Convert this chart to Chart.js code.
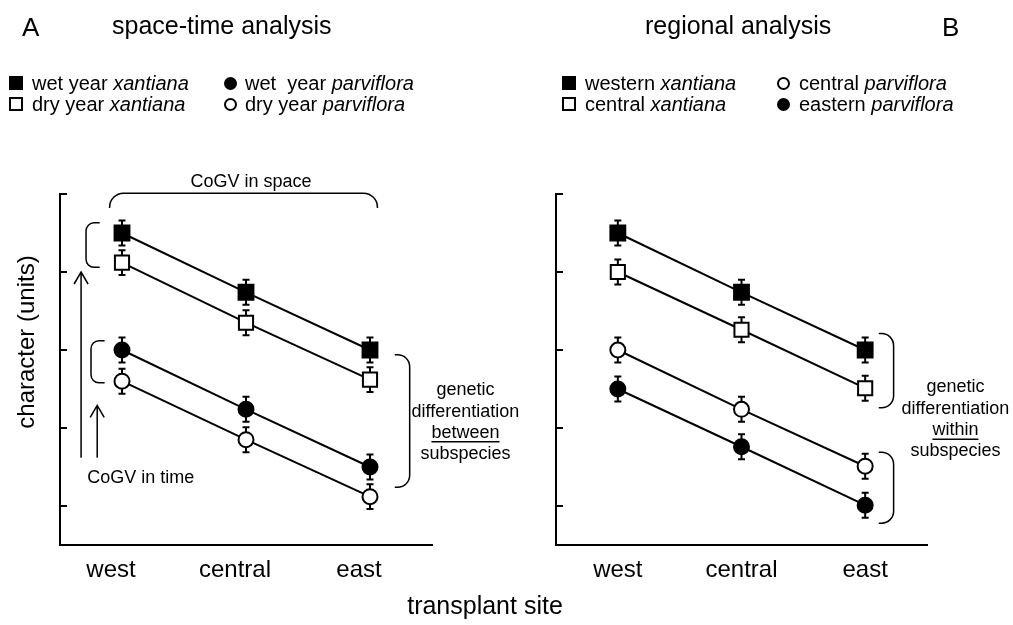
<!DOCTYPE html>
<html>
<head>
<meta charset="utf-8">
<script src="https://cdn.jsdelivr.net/npm/chart.js@4.4.1/dist/chart.umd.min.js"></script>
<style>
  body { margin: 0; background: #fff; }
  #fig { position: relative; width: 1013px; height: 625px; overflow: hidden;
         font-family: "Liberation Sans", Arial, sans-serif; color: #000; }
  #fig canvas { position: absolute; top: 0; }
  .txt { position: absolute; white-space: pre; }
  .mk { position: absolute; box-sizing: border-box; border: 2px solid #000; }
</style>
</head>
<body>
<div id="fig">
  <canvas id="chartA" width="540" height="625" style="left:0"></canvas>
  <canvas id="chartB" width="507" height="625" style="left:506px"></canvas>
  <div class="txt" style="left:22px;top:12px;font-size:26px;line-height:30px">A</div>
  <div class="txt" style="left:112px;top:11px;font-size:25px;line-height:28px">space-time analysis</div>
  <div class="txt" style="left:645px;top:11px;font-size:25px;line-height:28px">regional analysis</div>
  <div class="txt" style="left:942px;top:12px;font-size:26px;line-height:30px">B</div>
  <div class="txt" style="left:26px;top:342px;font-size:24px;line-height:28px;transform:translate(-50%,-50%) rotate(-90deg)">character (units)</div>
  <div class="txt" style="left:485px;top:591px;font-size:25px;line-height:28px;transform:translateX(-50%)">transplant site</div>
</div>
<script>
const sites = ['west', 'central', 'east'];
const yTicks = [0, 1, 2, 3, 4];
const errBar = [0.16, 0.16, 0.16];

// A: space-time analysis
const wetXantiana = [3.5, 2.74, 2.0];
const dryXantiana = [3.12, 2.35, 1.62];
const wetParviflora = [2.0, 1.24, 0.5];
const dryParviflora = [1.6, 0.85, 0.12];

// B: regional analysis
const westernXantiana = [3.5, 2.74, 2.0];
const centralXantiana = [3.0, 2.26, 1.51];
const centralParviflora = [2.0, 1.24, 0.51];
const easternParviflora = [1.5, 0.76, 0.01];

const FONT = '"Liberation Sans", Arial, sans-serif';

function series(name, italic, data, shape, filled) {
  const r = shape === 'rect' ? (filled ? 10.5 : 10) : 7.5;
  return {
    label: name + italic,
    name, italic, shape, filled,
    data,
    borderColor: '#000',
    borderWidth: 2,
    pointStyle: shape,
    pointRadius: r,
    pointHoverRadius: r,
    pointBackgroundColor: filled ? '#000' : '#fff',
    pointBorderColor: '#000',
    pointBorderWidth: 2,
    tension: 0,
    fill: false
  };
}

const dataA = [
  series('wet year ', 'xantiana', wetXantiana, 'rect', true),
  series('dry year ', 'xantiana', dryXantiana, 'rect', false),
  series('wet  year ', 'parviflora', wetParviflora, 'circle', true),
  series('dry year ', 'parviflora', dryParviflora, 'circle', false)
];
const dataB = [
  series('western ', 'xantiana', westernXantiana, 'rect', true),
  series('central ', 'xantiana', centralXantiana, 'rect', false),
  series('central ', 'parviflora', centralParviflora, 'circle', false),
  series('eastern ', 'parviflora', easternParviflora, 'circle', true)
];

// html legend, two columns of two rows
function legend(sets, cols) {
  const fig = document.getElementById('fig');
  const rows = [83, 104];
  sets.forEach((ds, k) => {
    const col = cols[Math.floor(k / 2)];
    const cy = rows[k % 2];
    const mk = document.createElement('div');
    mk.className = 'mk';
    const sz = ds.shape === 'rect' ? 14 : 13;
    mk.style.cssText = `left:${col[0]}px;top:${cy - sz / 2}px;width:${sz}px;height:${sz}px;` +
      `background:${ds.filled ? '#000' : '#fff'};border-radius:${ds.shape === 'rect' ? 0 : '50%'}`;
    fig.appendChild(mk);
    const t = document.createElement('div');
    t.className = 'txt';
    t.style.cssText = `left:${col[1]}px;top:${cy - 11}px;font-size:20px;line-height:22px`;
    t.innerHTML = ds.name + '<i>' + ds.italic + '</i>';
    fig.appendChild(t);
  });
}
legend(dataA, [[9, 32], [224, 245]]);
legend(dataB, [[562, 585], [777, 799]]);

const errorBars = {
  id: 'errorBars',
  beforeDatasetsDraw(chart) {
    const { ctx, scales: { y } } = chart;
    ctx.save();
    ctx.strokeStyle = '#000';
    ctx.lineWidth = 2;
    chart.data.datasets.forEach((ds, di) => {
      chart.getDatasetMeta(di).data.forEach((pt, i) => {
        const top = y.getPixelForValue(ds.data[i] + errBar[i]);
        const bot = y.getPixelForValue(ds.data[i] - errBar[i]);
        ctx.beginPath();
        ctx.moveTo(pt.x, top); ctx.lineTo(pt.x, bot);
        ctx.moveTo(pt.x - 3.5, top); ctx.lineTo(pt.x + 3.5, top);
        ctx.moveTo(pt.x - 3.5, bot); ctx.lineTo(pt.x + 3.5, bot);
        ctx.stroke();
      });
    });
    ctx.restore();
  }
};

// tick marks point into the plot
const innerTicks = {
  id: 'innerTicks',
  afterDraw(chart) {
    const { ctx, chartArea, scales: { y } } = chart;
    ctx.save();
    ctx.strokeStyle = '#000';
    ctx.lineWidth = 2;
    yTicks.forEach(v => {
      const py = Math.round(y.getPixelForValue(v));
      ctx.beginPath();
      ctx.moveTo(chartArea.left, py);
      ctx.lineTo(chartArea.left + 7, py);
      ctx.stroke();
    });
    ctx.restore();
  }
};

function bracket(ctx, x1, y1, x2, y2, side, r) {
  ctx.beginPath();
  if (side === 'left') {
    ctx.moveTo(x2, y1); ctx.arcTo(x1, y1, x1, y2, r); ctx.arcTo(x1, y2, x2, y2, r); ctx.lineTo(x2, y2);
  } else if (side === 'right') {
    ctx.moveTo(x1, y1); ctx.arcTo(x2, y1, x2, y2, r); ctx.arcTo(x2, y2, x1, y2, r); ctx.lineTo(x1, y2);
  } else {
    ctx.moveTo(x1, y2); ctx.arcTo(x1, y1, x2, y1, r); ctx.arcTo(x2, y1, x2, y2, r); ctx.lineTo(x2, y2);
  }
  ctx.stroke();
}

function arrow(ctx, x, yb, yt) {
  ctx.beginPath();
  ctx.moveTo(x, yb); ctx.lineTo(x, yt);
  ctx.moveTo(x - 7, yt + 12); ctx.lineTo(x, yt); ctx.lineTo(x + 7, yt + 12);
  ctx.stroke();
}

function textLines(ctx, cx, lines, ys, underline) {
  ctx.font = '18px ' + FONT;
  ctx.textAlign = 'center';
  ctx.textBaseline = 'middle';
  lines.forEach((s, k) => {
    ctx.fillText(s, cx, ys[k]);
    if (k === underline) {
      const w = ctx.measureText(s).width;
      ctx.beginPath();
      ctx.moveTo(cx - w / 2, ys[k] + 9); ctx.lineTo(cx + w / 2, ys[k] + 9);
      ctx.stroke();
    }
  });
}

const notesA = {
  id: 'notesA',
  afterDraw(chart) {
    const { ctx, scales: { x, y } } = chart;
    const px = i => x.getPixelForValue(i);
    const py = v => y.getPixelForValue(v);
    ctx.save();
    ctx.strokeStyle = '#000';
    ctx.fillStyle = '#000';
    ctx.lineWidth = 1.5;
    // CoGV in space
    bracket(ctx, px(-0.1), py(4.01), px(2.06), py(3.82), 'top', 14);
    ctx.font = '18px ' + FONT;
    ctx.textAlign = 'center';
    ctx.textBaseline = 'middle';
    ctx.fillText('CoGV in space', px(1.04), py(4.15));
    // CoGV in time
    bracket(ctx, px(-0.29), py(3.63), px(-0.18), py(3.06), 'left', 8);
    bracket(ctx, px(-0.25), py(2.12), px(-0.14), py(1.58), 'left', 8);
    arrow(ctx, px(-0.33), py(0.62), py(3.0));
    arrow(ctx, px(-0.2), py(0.62), py(1.29));
    ctx.textAlign = 'left';
    ctx.fillText('CoGV in time', px(-0.28), py(0.36));
    // between subspecies
    bracket(ctx, px(2.2), py(1.94), px(2.32), py(0.24), 'right', 12);
    textLines(ctx, px(2.77), ['genetic', 'differentiation', 'between', 'subspecies'],
      [py(1.49), py(1.2), py(0.94), py(0.66)], 2);
    ctx.restore();
  }
};

const notesB = {
  id: 'notesB',
  afterDraw(chart) {
    const { ctx, scales: { x, y } } = chart;
    const px = i => x.getPixelForValue(i);
    const py = v => y.getPixelForValue(v);
    ctx.save();
    ctx.strokeStyle = '#000';
    ctx.fillStyle = '#000';
    ctx.lineWidth = 1.5;
    bracket(ctx, px(2.11), py(2.21), px(2.23), py(1.26), 'right', 12);
    bracket(ctx, px(2.11), py(0.69), px(2.23), py(-0.22), 'right', 12);
    textLines(ctx, px(2.73), ['genetic', 'differentiation', 'within', 'subspecies'],
      [py(1.53), py(1.24), py(0.97), py(0.71)], 2);
    ctx.restore();
  }
};

function makeChart(id, sets, yWidth, padRight, labelShift, notes) {
  return new Chart(document.getElementById(id), {
    type: 'line',
    data: { labels: sites, datasets: sets },
    options: {
      responsive: false,
      animation: false,
      layout: { padding: { left: 0, top: 194, right: padRight, bottom: 0 } },
      plugins: { legend: { display: false }, tooltip: { enabled: false } },
      scales: {
        x: {
          offset: true,
          grid: { display: false, drawTicks: false },
          border: { display: true, color: '#000', width: 2 },
          ticks: { color: '#000', padding: 11, labelOffset: labelShift, font: { size: 24, family: FONT } },
          afterFit: s => { s.height = 80; }
        },
        y: {
          min: -0.5,
          max: 4,
          afterBuildTicks: s => { s.ticks = yTicks.map(v => ({ value: v })); },
          grid: { display: false, drawTicks: false },
          border: { display: true, color: '#000', width: 2 },
          ticks: { display: false },
          afterFit: s => { s.width = yWidth; }
        }
      }
    },
    plugins: [errorBars, innerTicks, notes]
  });
}

makeChart('chartA', dataA, 60, 108, -11, notesA);
makeChart('chartB', dataB, 50, 86, 0, notesB);
</script>
</body>
</html>
